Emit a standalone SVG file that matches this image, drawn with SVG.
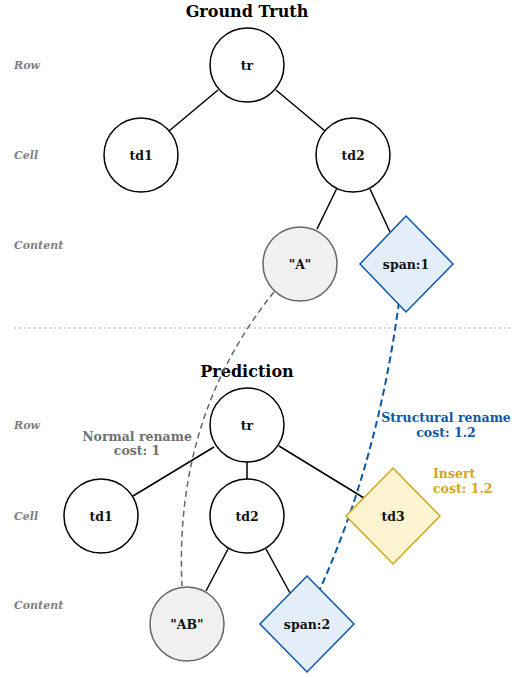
<svg xmlns="http://www.w3.org/2000/svg" width="520" height="677" viewBox="0 0 520 677">
<style>
text{font-family:"DejaVu Serif",serif;font-weight:bold}
.title{font-size:16px;fill:#000;text-anchor:middle}
.lvl{font-size:11px;font-style:italic;fill:#808080}
.nt{font-size:12.5px;fill:#111;text-anchor:middle;dominant-baseline:central}
.c{fill:#fff;stroke:#000;stroke-width:1.5}
.txt{fill:#f0f0f0;stroke:#666;stroke-width:1.5}
.blue{fill:#e4eef9;stroke:#0b57a8;stroke-width:1.5}
.gold{fill:#fcf3d0;stroke:#d4a51a;stroke-width:1.5}
.e{stroke:#000;stroke-width:1.5;fill:none}
.lab{font-size:12.5px;text-anchor:middle}
</style>
<rect width="520" height="677" fill="#fff"/>
<text class="title" x="247" y="17">Ground Truth</text>
<text class="title" x="247" y="377">Prediction</text>
<g id="levels">
<text class="lvl" x="14" y="69">Row</text>
<text class="lvl" x="14" y="159">Cell</text>
<text class="lvl" x="14" y="249">Content</text>
<text class="lvl" x="14" y="429">Row</text>
<text class="lvl" x="14" y="520">Cell</text>
<text class="lvl" x="14" y="609">Content</text>
</g>
<line x1="14" y1="328" x2="512" y2="328" stroke="#c8c8c8" stroke-width="1.5" stroke-dasharray="2,3"/>
<g id="connectors">
<line class="e" x1="218" y1="90" x2="169" y2="131"/>
<line class="e" x1="276" y1="90" x2="325" y2="131"/>
<line class="e" x1="337" y1="188" x2="317" y2="229"/>
<line class="e" x1="370" y1="189" x2="390" y2="232"/>
<line class="e" x1="214" y1="447" x2="133" y2="496"/>
<line class="e" x1="247" y1="462" x2="247" y2="479"/>
<line class="e" x1="279" y1="446" x2="364" y2="498"/>
<line class="e" x1="228" y1="549" x2="206" y2="591"/>
<line class="e" x1="266" y1="549" x2="290" y2="593"/>
<path d="M274,292 C215,365 176,460 182,586" fill="none" stroke="#666" stroke-width="1.5" stroke-dasharray="6,4"/>
<path d="M399,302 Q378,460 320,589" fill="none" stroke="#0b57a8" stroke-width="2" stroke-dasharray="7,4"/>
</g>
<g id="gt_tr"><circle class="c" cx="247" cy="65" r="37"/><text class="nt" x="247" y="65">tr</text></g>
<g id="gt_td1"><circle class="c" cx="141" cy="155" r="37"/><text class="nt" x="141" y="155">td1</text></g>
<g id="gt_td2"><circle class="c" cx="353" cy="155" r="37"/><text class="nt" x="353" y="155">td2</text></g>
<g id="gt_A"><circle class="txt" cx="300" cy="264" r="37"/><text class="nt" x="300" y="264">"A"</text></g>
<g id="gt_span1"><polygon class="blue" points="406,216 453,264 406,312 360,264"/><text class="nt" x="406" y="264">span:1</text></g>
<g id="pr_tr"><circle class="c" cx="247" cy="425" r="37"/><text class="nt" x="247" y="425">tr</text></g>
<g id="pr_td1"><circle class="c" cx="101" cy="516" r="37"/><text class="nt" x="101" y="516">td1</text></g>
<g id="pr_td2"><circle class="c" cx="247" cy="516" r="37"/><text class="nt" x="247" y="516">td2</text></g>
<g id="pr_td3"><polygon class="gold" points="393,468 440,516 393,564 346,516"/><text class="nt" x="393" y="516">td3</text></g>
<g id="pr_AB"><circle class="txt" cx="187" cy="624" r="37"/><text class="nt" x="187" y="624">"AB"</text></g>
<g id="pr_span2"><polygon class="blue" points="307,576 354,624 307,672 260,624"/><text class="nt" x="307" y="624">span:2</text></g>
<g id="labels">
<text class="lab" x="137" y="441" fill="#707070">Normal rename</text>
<text class="lab" x="137" y="455" fill="#707070">cost: 1</text>
<text class="lab" x="446" y="422" fill="#0b57a8">Structural rename</text>
<text class="lab" x="446" y="437" fill="#0b57a8">cost: 1.2</text>
<text class="lab" x="433" y="478" fill="#d4a51a" text-anchor="start" style="text-anchor:start">Insert</text>
<text class="lab" x="433" y="493" fill="#d4a51a" style="text-anchor:start">cost: 1.2</text>
</g>
</svg>
